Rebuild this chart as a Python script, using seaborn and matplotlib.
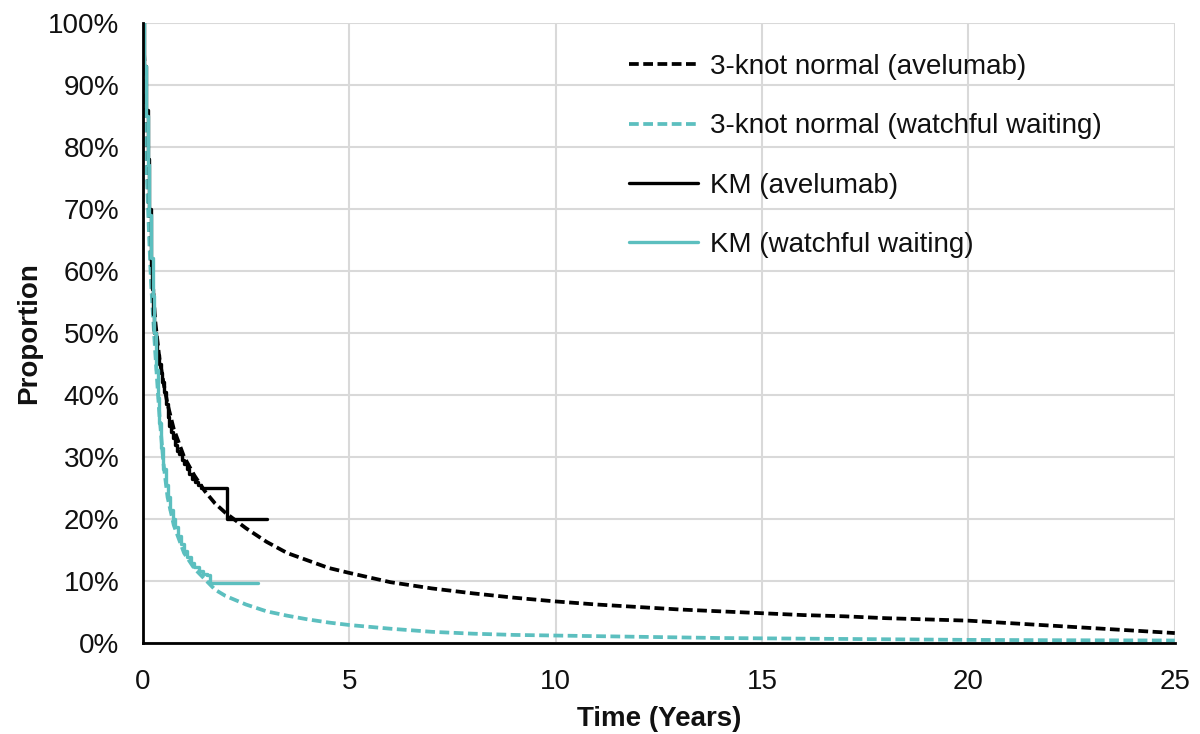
import matplotlib.pyplot as plt
import seaborn as sns

# parametric fits (3-knot normal)
fit_ave_t = [0, 0.05, 0.1, 0.15, 0.2, 0.3, 0.4, 0.5, 0.6, 0.75, 1.0, 1.25, 1.5, 1.75, 2.0, 2.5,
             3.0, 3.5, 4.0, 4.5, 5, 6, 7, 8, 9, 10, 11, 12, 13, 14, 15, 16, 17, 18, 19, 20,
             21, 22, 23, 24, 25]
fit_ave_p = [100, 92, 80, 70, 62, 52, 46, 42, 38.5, 34.5, 30, 27, 24.5, 22.5, 21, 18.5,
             16.3, 14.5, 13.3, 12.1, 11.3, 9.8, 8.8, 8.0, 7.3, 6.7, 6.2, 5.8, 5.4, 5.1, 4.8,
             4.5, 4.3, 4.0, 3.8, 3.6, 3.2, 2.8, 2.4, 2.0, 1.6]

fit_ww_t = [0, 0.05, 0.1, 0.15, 0.2, 0.3, 0.4, 0.5, 0.6, 0.75, 1.0, 1.25, 1.5, 1.75, 2.0, 2.5,
            3.0, 3.5, 4, 4.5, 5, 6, 7, 8, 9, 10, 12, 14, 16, 18, 20, 22, 25]
fit_ww_p = [100, 88, 75, 66, 58, 47, 37, 29, 23.5, 19, 14.5, 12, 10.3, 8.6, 7.6, 6.2,
            5.1, 4.4, 3.8, 3.3, 2.9, 2.3, 1.8, 1.5, 1.3, 1.2, 1.0, 0.8, 0.7, 0.6, 0.5, 0.45, 0.4]

# Kaplan-Meier step values
km_ave_t = [0, 0.04, 0.08, 0.12, 0.16, 0.2, 0.22, 0.25, 0.28, 0.31, 0.35, 0.39, 0.43, 0.47,
            0.52, 0.56, 0.6, 0.64, 0.68, 0.72, 0.77, 0.82, 0.88, 0.94, 1.0, 1.06, 1.12, 1.19,
            1.26, 1.34, 1.42, 2.05, 3.0]
km_ave_p = [100, 93, 86, 78, 70, 61, 57, 53, 50, 48, 46.5, 45, 43.5, 42,
            40.5, 38.5, 36.5, 35, 34, 33, 32, 31, 30.5, 29.5, 28.8, 28, 27.2, 26.5,
            26, 25.5, 25, 20, 20]

km_ww_t = [0, 0.04, 0.08, 0.12, 0.16, 0.2, 0.24, 0.28, 0.32, 0.36, 0.4, 0.45, 0.5, 0.55,
           0.6, 0.66, 0.72, 0.78, 0.85, 0.92, 1.0, 1.08, 1.16, 1.25, 1.35, 1.45, 1.55, 1.62, 2.8]
km_ww_p = [100, 93, 85, 77, 69, 62, 56, 50, 44, 39.5, 35.5, 31.5, 28, 25.5,
           23.5, 21.5, 20, 18.7, 17.3, 16, 14.8, 13.8, 12.9, 12.2, 11.6, 11.1, 11.0, 9.7, 9.7]

black = '#000000'
teal = '#5cbfbf'

sns.set_theme(style='whitegrid')
plt.rcParams['font.family'] = ['Liberation Sans', 'DejaVu Sans']
plt.rcParams['text.color'] = '#111111'
plt.rcParams['axes.labelcolor'] = '#111111'
plt.rcParams['xtick.color'] = '#111111'
plt.rcParams['ytick.color'] = '#111111'

fig = plt.figure(figsize=(12, 7.34), dpi=100)
ax = fig.add_axes([0.119, 0.124, 0.86, 0.845])

# fitted curves (dashed) and KM steps (solid)
sns.lineplot(x=fit_ave_t, y=fit_ave_p, color=black, lw=2.7, estimator=None, sort=False,
             ax=ax, label='3-knot normal (avelumab)')
sns.lineplot(x=fit_ww_t, y=fit_ww_p, color=teal, lw=2.7, estimator=None, sort=False,
             ax=ax, label='3-knot normal (watchful waiting)')
sns.lineplot(x=km_ave_t, y=km_ave_p, color=black, lw=2.4, estimator=None, sort=False,
             ax=ax, label='KM (avelumab)', drawstyle='steps-post')
sns.lineplot(x=km_ww_t, y=km_ww_p, color=teal, lw=2.4, estimator=None, sort=False,
             ax=ax, label='KM (watchful waiting)', drawstyle='steps-post')

for line in ax.lines[:2]:
    line.set_linestyle((0, (2.6, 1.2)))

ax.set_xlim(0, 25)
ax.set_ylim(0, 100)
ax.set_xticks(range(0, 26, 5))
ax.set_yticks(range(0, 101, 10))
ax.set_yticklabels([f'{v}%' for v in range(0, 101, 10)])
ax.tick_params(labelsize=20, length=0)
ax.tick_params(axis='x', pad=19)
ax.tick_params(axis='y', pad=17)

ax.grid(True, color='#d9d9d9', lw=1.5)
for s in ['top', 'right']:
    ax.spines[s].set_visible(False)
for s in ['left', 'bottom']:
    ax.spines[s].set_color('black')
    ax.spines[s].set_linewidth(2)

ax.set_xlabel('Time (Years)', fontsize=20, fontweight='bold', labelpad=8)
ax.set_ylabel('Proportion', fontsize=20, fontweight='bold', labelpad=4)

leg = ax.legend(loc='upper right', bbox_to_anchor=(0.953, 0.99), frameon=False,
                fontsize=20, labelspacing=1.2, handlelength=2.5, handletextpad=0.4)

fig.savefig('out.png', dpi=100)
